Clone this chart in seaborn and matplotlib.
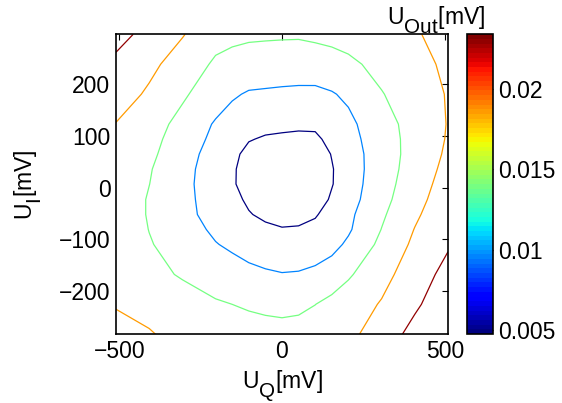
import numpy as np
import pandas as pd
import matplotlib
matplotlib.use("Agg")
import matplotlib.pyplot as plt
import seaborn as sns
from matplotlib.colors import Normalize
from matplotlib.cm import ScalarMappable

# ---- data ----
u_q = [-510, -408, -306, -204, -153, -102, -51, 0, 51, 102, 153, 204, 306, 408, 510]   # mV
u_i = [-284, -226, -168, -110, -81, -52, -23, 7, 36, 65, 94, 123, 181, 239, 297]       # mV
# U_Out [mV]; one row per u_i value (bottom to top), one column per u_q value
row_m284 = [0.01963, 0.01877, 0.01738, 0.01603, 0.01580, 0.01558, 0.01562, 0.01549, 0.01567, 0.01589, 0.01648, 0.01738, 0.02075, 0.02435, 0.02705]
row_m226 = [0.01828, 0.01738, 0.01648, 0.01445, 0.01400, 0.01355, 0.01306, 0.01279, 0.01306, 0.01396, 0.01517, 0.01634, 0.01882, 0.02233, 0.02570]
row_m168 = [0.01783, 0.01567, 0.01346, 0.01202, 0.01121, 0.01054, 0.01004, 0.00968, 0.00982, 0.01036, 0.01157, 0.01346, 0.01711, 0.02075, 0.02440]
row_m110 = [0.01738, 0.01432, 0.01198, 0.00968, 0.00883, 0.00788, 0.00716, 0.00669, 0.00685, 0.00743, 0.00824, 0.01022, 0.01504, 0.01936, 0.02255]
row_m81 = [0.01715, 0.01391, 0.01135, 0.00878, 0.00806, 0.00662, 0.00572, 0.00523, 0.00536, 0.00604, 0.00761, 0.00896, 0.01409, 0.01864, 0.02210]
row_m52 = [0.01706, 0.01364, 0.01076, 0.00797, 0.00694, 0.00523, 0.00428, 0.00374, 0.00388, 0.00464, 0.00662, 0.00856, 0.01337, 0.01778, 0.02165]
row_m23 = [0.01706, 0.01364, 0.01072, 0.00761, 0.00599, 0.00442, 0.00284, 0.00221, 0.00239, 0.00298, 0.00554, 0.00775, 0.01265, 0.01697, 0.02102]
row_p7 = [0.01724, 0.01405, 0.01072, 0.00725, 0.00541, 0.00361, 0.00230, 0.00185, 0.00185, 0.00230, 0.00478, 0.00739, 0.01220, 0.01639, 0.02035]
row_p36 = [0.01751, 0.01432, 0.01090, 0.00734, 0.00545, 0.00361, 0.00230, 0.00185, 0.00208, 0.00230, 0.00473, 0.00730, 0.01189, 0.01594, 0.01972]
row_p65 = [0.01783, 0.01490, 0.01139, 0.00766, 0.00590, 0.00397, 0.00316, 0.00253, 0.00275, 0.00280, 0.00518, 0.00748, 0.01180, 0.01562, 0.01918]
row_p94 = [0.01814, 0.01535, 0.01202, 0.00842, 0.00703, 0.00523, 0.00460, 0.00437, 0.00419, 0.00424, 0.00613, 0.00802, 0.01193, 0.01558, 0.01882]
row_p123 = [0.01837, 0.01576, 0.01279, 0.00905, 0.00797, 0.00649, 0.00608, 0.00586, 0.00568, 0.00577, 0.00721, 0.00851, 0.01229, 0.01567, 0.01868]
row_p181 = [0.02053, 0.01787, 0.01459, 0.01162, 0.00995, 0.00914, 0.00896, 0.00878, 0.00865, 0.00860, 0.00919, 0.01027, 0.01378, 0.01634, 0.01877]
row_p239 = [0.02210, 0.01954, 0.01652, 0.01337, 0.01252, 0.01193, 0.01180, 0.01166, 0.01157, 0.01171, 0.01229, 0.01310, 0.01531, 0.01724, 0.01922]
row_p297 = [0.02435, 0.02174, 0.01877, 0.01549, 0.01508, 0.01477, 0.01463, 0.01454, 0.01450, 0.01490, 0.01526, 0.01576, 0.01625, 0.01814, 0.01985]

levels = [0.005, 0.0095, 0.014, 0.0185, 0.023]
c_min, c_max = 0.00475, 0.02342
x_ticks = [-500, 0, 500]
y_ticks = [-200, -100, 0, 100, 200]
cbar_ticks = [0.005, 0.01, 0.015, 0.02]
cbar_ticklabels = ["0.005", "0.01", "0.015", "0.02"]

rows = [row_m284, row_m226, row_m168, row_m110, row_m81, row_m52, row_m23, row_p7,
        row_p36, row_p65, row_p94, row_p123, row_p181, row_p239, row_p297]
df = pd.DataFrame(rows, index=u_i, columns=u_q)

# ---- style ----
sns.set_theme(style="white")
plt.rcParams["font.family"] = ["Liberation Sans", "DejaVu Sans"]
plt.rcParams["mathtext.fontset"] = "custom"
plt.rcParams["mathtext.rm"] = "Liberation Sans"
plt.rcParams["mathtext.it"] = "Liberation Sans:italic"
plt.rcParams["axes.unicode_minus"] = True
plt.rcParams["text.color"] = "black"
plt.rcParams["axes.labelcolor"] = "black"
plt.rcParams["xtick.color"] = "black"
plt.rcParams["ytick.color"] = "black"
# MATLAB-like subscripts: nearly full size, lowered further
try:
    import matplotlib._mathtext as _mt
    _mt.SHRINK_FACTOR = 0.9
    _mt.FontConstantsBase.sub1 = 0.7
except Exception:
    pass

FS = 16.5
W, H = 562, 403
fig = plt.figure(figsize=(W / 100, H / 100), dpi=100)
fig.patch.set_facecolor("white")

ax = fig.add_axes([116 / W, 1 - 334.3 / H, 332 / W, 300 / H])
cmap = matplotlib.colormaps["jet"].resampled(64)
norm = Normalize(vmin=c_min, vmax=c_max)

ax.contour(df.columns.values, df.index.values, df.values,
           levels=levels, cmap=cmap, norm=norm, linewidths=0.9)

ax.set_xlim(-510, 510)
ax.set_ylim(-284, 297)
ax.set_xticks(x_ticks)
ax.set_yticks(y_ticks)
ax.tick_params(direction="in", top=True, right=True, length=4, width=0.8,
               labelsize=FS, pad=4, colors="black")
for s in ax.spines.values():
    s.set_linewidth(1.2)
    s.set_color("black")
ax.set_facecolor("white")

ax.set_xlabel(r"U$_\mathrm{Q}$[mV]", fontsize=FS, color="black")
ax.xaxis.label.set_verticalalignment("baseline")
ax.xaxis.set_label_coords(0.5, (334.3 - 388) / 300)
ax.set_ylabel(r"U$_\mathrm{I}$[mV]", fontsize=FS, color="black")
ax.yaxis.label.set_verticalalignment("center")
ax.yaxis.set_label_coords((28 - 116) / 332, 0.5)

# ---- colorbar ----
cax = fig.add_axes([466.7 / W, 1 - 334 / H, 26 / W, 299.7 / H])
sm = ScalarMappable(norm=norm, cmap=cmap)
cb = fig.colorbar(sm, cax=cax, ticks=cbar_ticks)
cb.ax.set_yticklabels(cbar_ticklabels)
cb.ax.tick_params(direction="in", left=True, right=True, length=3, width=0.8,
                  labelsize=FS, pad=4, colors="black")
cb.outline.set_linewidth(1.2)
cb.outline.set_edgecolor("black")
fig.text(436 / W, 1 - 25 / H, r"U$_\mathrm{Out}$[mV]", ha="center",
         va="baseline", fontsize=FS, color="black")

fig.savefig("out.png", dpi=100, facecolor="white")
